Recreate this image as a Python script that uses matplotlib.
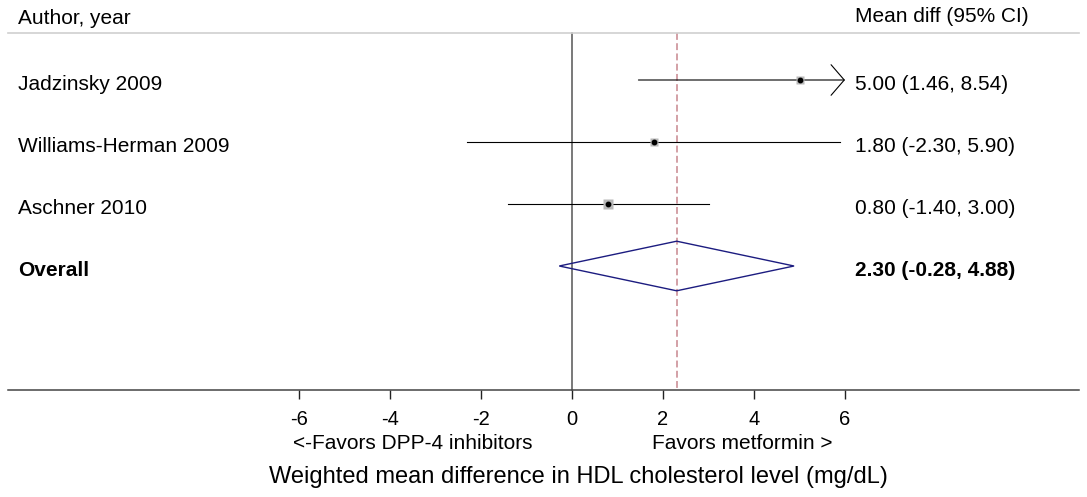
import numpy as np
import matplotlib
matplotlib.use("Agg")
import matplotlib.pyplot as plt
from matplotlib.patches import Polygon

plt.rcParams['font.family'] = ['Liberation Sans', 'DejaVu Sans']
plt.rcParams['axes.unicode_minus'] = False

# Study data
studies = ["Jadzinsky 2009", "Williams-Herman 2009", "Aschner 2010"]
mean_diff = [5.00, 1.80, 0.80]
ci_low = [1.46, -2.30, -1.40]
ci_high = [8.54, 5.90, 3.00]
weights = [29, 25, 46]          # relative weight (from square size)

overall_label = "Overall"
overall_md = 2.30
overall_low = -0.28
overall_high = 4.88

xticks = [-6, -4, -2, 0, 2, 4, 6]
x_clip = 6                      # CIs beyond this are drawn as arrows

fig = plt.figure(figsize=(10.87, 4.97), dpi=100)
ax = fig.add_axes([0, 0, 1, 1])

# pixel-matched limits: 0 at x=572px, 45.5 px per unit; rows 62 px apart
ax.set_xlim(-572 / 45.5, (1087 - 572) / 45.5)
ax.set_ylim((497 - 80) / 62, -80 / 62)

header_y = -0.75
axis_y = 5.0
text_dy = 0.07
left_x = 18 / 1087
right_x = 855 / 1087
trans = ax.get_yaxis_transform()

# header
ax.text(left_x, -1.0, "Author, year", transform=trans, fontsize=15, va='center')
ax.text(right_x, -1.03, "Mean diff (95% CI)", transform=trans, fontsize=15, va='center')
ax.plot([8 / 1087, 1079 / 1087], [header_y, header_y], transform=trans,
        color='#cfcfcf', lw=1.2)

# reference lines
ax.plot([0, 0], [header_y, axis_y], color='#555555', lw=1.1, zorder=1)
ax.plot([overall_md, overall_md], [header_y, axis_y], color='#c8868e', lw=1.1,
        dashes=(4.5, 2.2), zorder=1)

# studies
wmax = max(weights)
for i, (name, md, lo, hi, w) in enumerate(zip(studies, mean_diff, ci_low, ci_high, weights)):
    if hi > x_clip:
        ax.annotate('', xy=(x_clip, i), xytext=(lo, i),
                    arrowprops=dict(arrowstyle='->,head_length=0.95,head_width=1.1',
                                    lw=0.8, color='black', shrinkA=0, shrinkB=0,
                                    mutation_scale=10))
    else:
        ax.plot([lo, hi], [i, i], color='black', lw=0.8, zorder=2)
    side = 7.3 * np.sqrt(w / wmax)
    ax.plot(md, i, marker='s', ms=side, color='#b8b8b8', mec='none', zorder=3)
    ax.plot(md, i, marker='o', ms=3.2, color='black', zorder=4)
    ax.text(left_x, i + text_dy, name, transform=trans, fontsize=15, va='center')
    ax.text(right_x, i + text_dy, f"{md:.2f} ({lo:.2f}, {hi:.2f})", transform=trans,
            fontsize=15, va='center')

# overall diamond
oy = len(studies)
dh = 0.4
diamond = Polygon([(overall_low, oy), (overall_md, oy - dh), (overall_high, oy),
                   (overall_md, oy + dh)], closed=True, fill=False,
                  edgecolor='#1c1c80', lw=1.0, zorder=3)
ax.add_patch(diamond)
ax.text(left_x, oy + text_dy, overall_label, transform=trans, fontsize=15,
        fontweight='bold', va='center')
ax.text(right_x, oy + text_dy,
        f"{overall_md:.2f} ({overall_low:.2f}, {overall_high:.2f})",
        transform=trans, fontsize=15, fontweight='bold', va='center')

# x axis
for s in ['top', 'left', 'right']:
    ax.spines[s].set_visible(False)
ax.spines['bottom'].set_position(('data', axis_y))
ax.spines['bottom'].set_bounds(-564 / 45.5, (1079 - 572) / 45.5)
ax.spines['bottom'].set_color('#444444')
ax.spines['bottom'].set_linewidth(1.1)
ax.set_yticks([])
ax.set_xticks(xticks)
ax.set_xticklabels([str(t) for t in xticks])
ax.tick_params(axis='x', direction='out', length=6.8, width=1.0, pad=7.5,
               labelsize=14.5, color='#222222')

ax.text(-3.5, 5.86, "<-Favors DPP-4 inhibitors", fontsize=15, ha='center', va='center')
ax.text(3.75, 5.86, "Favors metformin >", fontsize=15, ha='center', va='center')
ax.text(0.15, 6.41, "Weighted mean difference in HDL cholesterol level (mg/dL)",
        fontsize=17, ha='center', va='center')

fig.savefig("out.png", dpi=100)
